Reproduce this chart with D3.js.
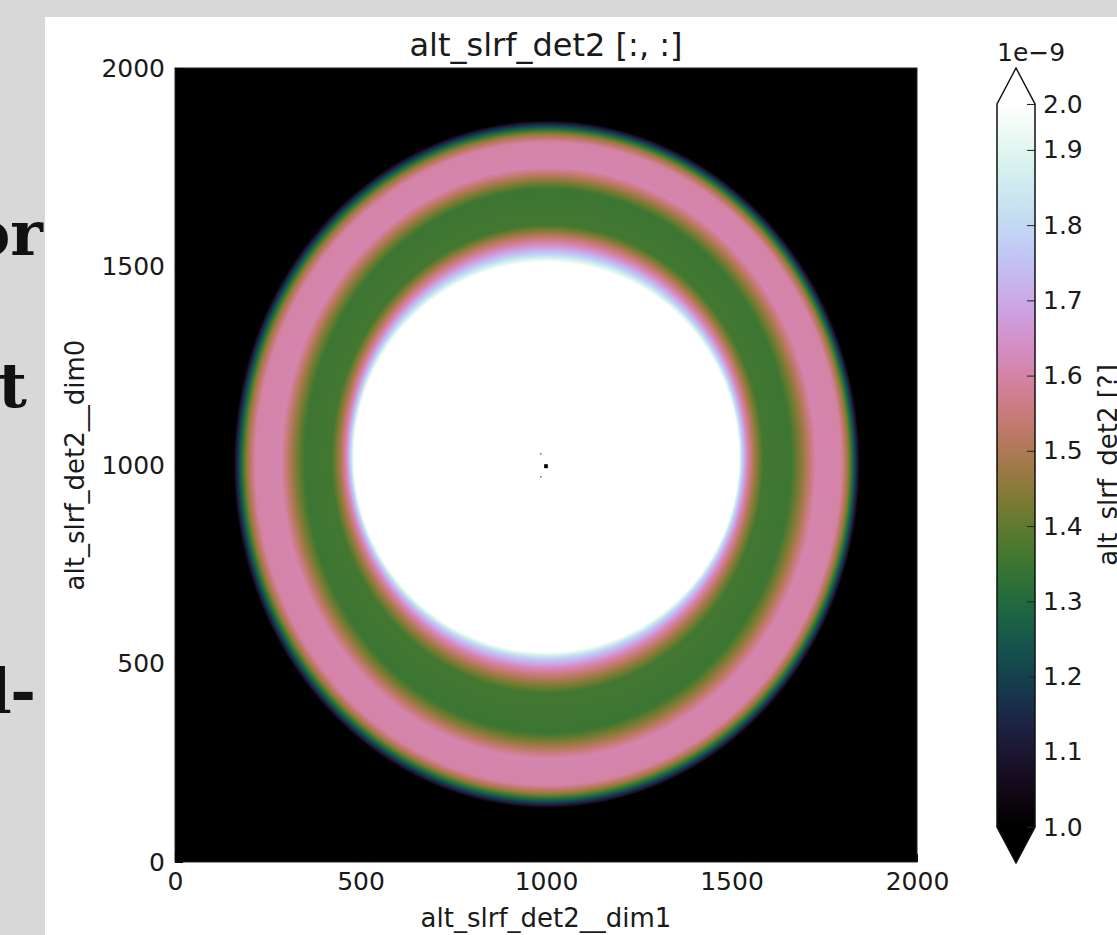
<!DOCTYPE html>
<html><head><meta charset="utf-8">
<script src="https://cdn.jsdelivr.net/npm/d3@7"></script>
<style>body{margin:0;background:#fff;} svg{display:block;}</style>
</head><body>
<svg id="chart" width="1117" height="935"></svg>
<script>
// ---------- data ----------
const titleText = "alt_slrf_det2 [:, :]";
const xLabelText = "alt_slrf_det2__dim1";
const yLabelText = "alt_slrf_det2__dim0";
const cbarLabelText = "alt_slrf_det2 [?]";
const cbarOffsetText = "1e\u22129";
const xTicks = [0, 500, 1000, 1500, 2000];
const yTicks = [0, 500, 1000, 1500, 2000];
const cbarTicks = [1.0, 1.1, 1.2, 1.3, 1.4, 1.5, 1.6, 1.7, 1.8, 1.9, 1.961];
const dataExtent = [0, 2000];
const valueRange = [1.0, 1.961];
// ring: contour levels, innermost first
// (value in 1e-9, ellipse centre and semi-axes in data units)
const levelValues = [2.3, 1.96, 1.78, 1.62, 1.5, 1.36, 1.35, 1.48, 1.61, 1.6, 1.45, 1.1, 0.9];
const levelCx =     [1001, 1001, 1001, 1002, 1003, 1004, 1005, 1006, 1007, 1006, 1004, 1002, 1002];
const levelCy =     [1020, 1020, 1022, 1022, 1020, 1015, 1010, 1007, 1005, 1003, 1003, 1002, 1002];
const levelAx =     [300, 519, 528, 540, 556, 582, 655, 690, 722, 790, 812, 838, 850];
const levelAy =     [280, 491, 510, 535, 560, 590, 685, 715, 745, 810, 832, 860, 872];
// small dark pixels at the centre
const specks = [
  {x: 1000, y: 997, size: 10, v: 0.9},
  {x: 986, y: 1028, size: 3, v: 1.0},
  {x: 986, y: 970, size: 3, v: 1.0}
];
// cut-off text of the slide behind the figure
const sideFragments = [
  {text: "or", x: 43, y: 255, weight: "bold"},
  {text: "st", x: 27, y: 407, weight: "bold"},
  {text: "l", x: 12, y: 713, weight: "normal"},
  {text: "-", x: 36, y: 713, weight: "bold"},
  {text: ".", x: 4, y: 868, weight: "bold"}
];

// ---------- layout ----------
const W = 1117, H = 935;
const plot = {left: 175, right: 917, top: 68, bottom: 862};
const cbar = {left: 997, right: 1035, top: 104, bottom: 827, tipTop: 68, tipBottom: 863};
const font = "DejaVu Sans, Verdana, sans-serif";

const svg = d3.select("#chart");
svg.append("rect").attr("width", W).attr("height", H).attr("fill", "#d8d8d8");
svg.append("g").selectAll("text").data(sideFragments).join("text")
  .attr("x", d => d.x).attr("y", d => d.y)
  .attr("text-anchor", "end")
  .attr("font-family", "DejaVu Serif, serif")
  .attr("font-weight", d => d.weight)
  .attr("font-size", 62).attr("fill", "#111")
  .text(d => d.text);
svg.append("rect").attr("x", 45).attr("y", 17).attr("width", W - 45).attr("height", H - 17).attr("fill", "#fff");

const x = d3.scaleLinear().domain(dataExtent).range([plot.left, plot.right]);
const y = d3.scaleLinear().domain(dataExtent).range([plot.bottom, plot.top]);
const color = d3.scaleSequential(d3.interpolateCubehelixDefault).domain(valueRange).clamp(true);

// value at a data point: interpolate between the nested contour ellipses
const nLev = levelValues.length;
function valueAt(X, Y) {
  let prevE = null;
  for (let k = 0; k < nLev; k++) {
    const ex = (X - levelCx[k]) / levelAx[k], ey = (Y - levelCy[k]) / levelAy[k];
    const e = Math.sqrt(ex * ex + ey * ey);
    if (e <= 1) {
      if (k === 0) return levelValues[0];
      const t = (1 - 1 / prevE) / (1 / e - 1 / prevE);
      return levelValues[k - 1] + t * (levelValues[k] - levelValues[k - 1]);
    }
    prevE = e;
  }
  return levelValues[nLev - 1];
}

// ---------- image ----------
const iw = Math.round(x(dataExtent[1]) - x(dataExtent[0]));
const ih = Math.round(y(dataExtent[0]) - y(dataExtent[1]));
const canvas = document.createElement("canvas");
canvas.width = iw; canvas.height = ih;
const ctx = canvas.getContext("2d");
const img = ctx.createImageData(iw, ih);
const LUT_N = 1024;
const lut = d3.range(LUT_N).map(k => d3.rgb(color(valueRange[0] + (valueRange[1] - valueRange[0]) * k / (LUT_N - 1))));
function lutColor(v) {
  let t = (v - valueRange[0]) / (valueRange[1] - valueRange[0]);
  t = Math.max(0, Math.min(1, t));
  return lut[Math.round(t * (LUT_N - 1))];
}
for (let j = 0; j < ih; j++) {
  const Y = y.invert(plot.top + j + 0.5);
  for (let i = 0; i < iw; i++) {
    const X = x.invert(plot.left + i + 0.5);
    const c = lutColor(valueAt(X, Y));
    const o = (j * iw + i) * 4;
    img.data[o] = c.r; img.data[o + 1] = c.g; img.data[o + 2] = c.b; img.data[o + 3] = 255;
  }
}
ctx.putImageData(img, 0, 0);
svg.append("image")
  .attr("x", x(dataExtent[0])).attr("y", y(dataExtent[1]))
  .attr("width", iw).attr("height", ih)
  .attr("preserveAspectRatio", "none")
  .attr("href", canvas.toDataURL());

svg.append("g").selectAll("rect").data(specks).join("rect")
  .attr("x", d => x(d.x - d.size / 2)).attr("y", d => y(d.y + d.size / 2))
  .attr("width", d => x(d.size) - x(0)).attr("height", d => y(0) - y(d.size))
  .attr("fill", d => color(d.v));

// ---------- axes ----------
svg.append("rect").attr("x", plot.left).attr("y", plot.top)
  .attr("width", plot.right - plot.left).attr("height", plot.bottom - plot.top)
  .attr("fill", "none").attr("stroke", "#222").attr("stroke-width", 1);

const xAxis = svg.append("g").attr("transform", `translate(0,${plot.bottom})`)
  .call(d3.axisBottom(x).tickValues(xTicks).tickSize(-8).tickPadding(10).tickFormat(d3.format("d")));
const yAxis = svg.append("g").attr("transform", `translate(${plot.left},0)`)
  .call(d3.axisLeft(y).tickValues(yTicks).tickSize(-8).tickPadding(10).tickFormat(d3.format("d")));
[xAxis, yAxis].forEach(g => {
  g.select(".domain").remove();
  g.selectAll(".tick line").attr("stroke", "#000");
  g.selectAll(".tick text").attr("font-family", font).attr("font-size", 25).attr("fill", "#1a1a1a");
});

svg.append("text").attr("x", (plot.left + plot.right) / 2).attr("y", 56)
  .attr("text-anchor", "middle").attr("font-family", font).attr("font-size", 32).attr("fill", "#1a1a1a")
  .text(titleText);
svg.append("text").attr("x", (plot.left + plot.right) / 2).attr("y", 927)
  .attr("text-anchor", "middle").attr("font-family", font).attr("font-size", 26).attr("fill", "#1a1a1a")
  .text(xLabelText);
svg.append("text").attr("transform", `translate(84,${(plot.top + plot.bottom) / 2}) rotate(-90)`)
  .attr("text-anchor", "middle").attr("font-family", font).attr("font-size", 26).attr("fill", "#1a1a1a")
  .text(yLabelText);

// ---------- colorbar ----------
const cb = d3.scaleLinear().domain(valueRange).range([cbar.bottom, cbar.top]);
const defs = svg.append("defs");
const grad = defs.append("linearGradient").attr("id", "cbgrad")
  .attr("x1", 0).attr("y1", 1).attr("x2", 0).attr("y2", 0);
grad.selectAll("stop").data(d3.range(0, 1.0001, 0.02)).join("stop")
  .attr("offset", d => d)
  .attr("stop-color", d => color(valueRange[0] + d * (valueRange[1] - valueRange[0])));
const cx = (cbar.left + cbar.right) / 2;
svg.append("rect").attr("x", cbar.left).attr("y", cb(valueRange[1]))
  .attr("width", cbar.right - cbar.left).attr("height", cb(valueRange[0]) - cb(valueRange[1]))
  .attr("fill", "url(#cbgrad)");
svg.append("path").attr("d", `M${cbar.left},${cb(valueRange[1])}L${cx},${cbar.tipTop}L${cbar.right},${cb(valueRange[1])}Z`)
  .attr("fill", color(valueRange[1] + 1));
svg.append("path").attr("d", `M${cbar.left},${cb(valueRange[0])}L${cx},${cbar.tipBottom}L${cbar.right},${cb(valueRange[0])}Z`)
  .attr("fill", color(valueRange[0] - 1));
const cbAxis = svg.append("g").attr("transform", `translate(${cbar.right},0)`)
  .call(d3.axisRight(cb).tickValues(cbarTicks).tickSize(-8).tickPadding(8).tickFormat(d3.format(".1f")));
cbAxis.select(".domain").remove();
cbAxis.selectAll(".tick line").attr("stroke", "#222").attr("stroke-width", 1);
cbAxis.selectAll(".tick text").attr("font-family", font).attr("font-size", 25).attr("fill", "#1a1a1a");
svg.append("path")
  .attr("d", `M${cbar.left},${cb(valueRange[1])}L${cx},${cbar.tipTop}L${cbar.right},${cb(valueRange[1])}L${cbar.right},${cb(valueRange[0])}L${cx},${cbar.tipBottom}L${cbar.left},${cb(valueRange[0])}Z`)
  .attr("fill", "none").attr("stroke", "#111").attr("stroke-width", 1.5);
svg.append("text").attr("x", cbar.left).attr("y", 61)
  .attr("font-family", font).attr("font-size", 25).attr("fill", "#1a1a1a").text(cbarOffsetText);
svg.append("text").attr("transform", `translate(1117,${(plot.top + plot.bottom) / 2}) rotate(-90)`)
  .attr("text-anchor", "middle").attr("font-family", font).attr("font-size", 26).attr("fill", "#1a1a1a")
  .text(cbarLabelText);
</script>
</body></html>
